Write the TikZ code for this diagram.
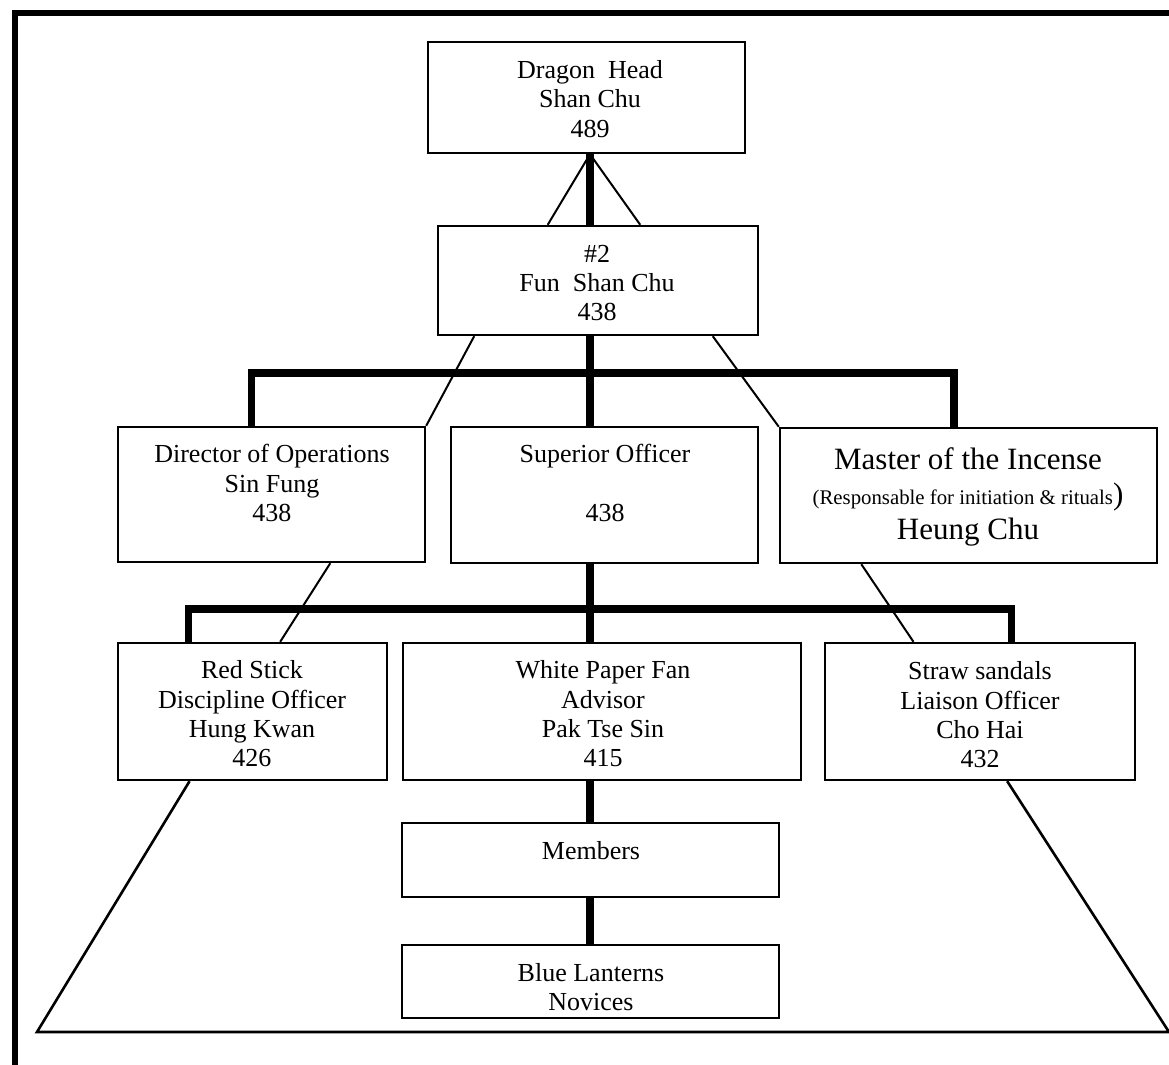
\documentclass[tikz,border=0pt]{standalone}
\usepackage{fontspec}
\setmainfont{Liberation Serif}
\usetikzlibrary{fit,calc}
\begin{document}
\begin{tikzpicture}[x=0.5pt,y=-0.5pt,
  box/.style={draw, rectangle, line width=1.2pt, inner sep=0pt},
  txt/.style={align=center, inner sep=0pt, font=\fontsize{13}{14.7}\selectfont},
  bigtxt/.style={align=center, inner sep=0pt, font=\fontsize{15.5}{17.5}\selectfont},
  trunkline/.style={line width=3.6pt},
  slant/.style={line width=1pt},
  baseline/.style={line width=1.3pt},
  frameline/.style={line width=3pt}]
\useasboundingbox (0,0) rectangle (1169,1065);
\fill[white] (0,0) rectangle (1169,1065);

% outer frame (left and top edges)
\draw[frameline] (15,1075) -- (15,13.5) -- (1180,13.5);

% boxes
\node[box, fit={(428,42) (745,153)}] (head) {};
\node[box, fit={(438,226) (758,335)}] (second) {};
\node[box, fit={(118,427) (425,562)}] (dir) {};
\node[box, fit={(451,427) (758,563)}] (sup) {};
\node[box, fit={(780,428) (1157,563)}] (mas) {};
\node[box, fit={(118,643) (387,780)}] (red) {};
\node[box, fit={(403,643) (801,780)}] (fan) {};
\node[box, fit={(825,643) (1135,780)}] (straw) {};
\node[box, fit={(402,823) (779,897)}] (mem) {};
\node[box, fit={(402,945) (779,1018)}] (blue) {};

% texts
\node[txt] (headT) at (590,99) {Dragon\ \ Head\\Shan Chu\\489};
\node[txt] (secondT) at (597,283) {\#2\\Fun\ \ Shan Chu\\438};
\node[txt] (dirT) at (272,483) {Director of Operations\\Sin Fung\\438};
\node[txt] (supT) at (605,483) {Superior Officer\\[15pt]438};
\node[bigtxt] (masT) at (968,497) {Master of the Incense\\{\fontsize{10.4}{12}\selectfont (Responsable for initiation \& rituals})\\Heung Chu};
\node[txt] (redT) at (252,714) {Red Stick\\Discipline Officer\\Hung Kwan\\426};
\node[txt] (fanT) at (603,714) {White Paper Fan\\Advisor\\Pak Tse Sin\\415};
\node[txt] (strawT) at (980,715) {Straw sandals\\Liaison Officer\\Cho Hai\\432};
\node[txt] (memT) at (591,851) {Members};
\node[txt] (blueT) at (591,987) {Blue Lanterns\\Novices};

% reference points for the connectors
\coordinate (trunk) at (590,0);
\coordinate (busA) at (0,373);
\coordinate (busB) at (0,609);
\coordinate (baseL) at (37,1032);
\coordinate (baseR) at (1169,1032);

% Dragon Head to #2
\draw[trunkline] (head.south -| trunk) -- (second.north -| trunk);
\draw[slant] (head.south -| trunk) -- ($(second.north west)!0.344!(second.north east)$);
\draw[slant] (head.south -| trunk) -- ($(second.north west)!0.631!(second.north east)$);

% #2 to the three officers
\coordinate (dropDir) at ($(dir.north west)!0.436!(dir.north east)$);
\coordinate (dropMas) at ($(mas.north west)!0.462!(mas.north east)$);
\draw[trunkline] (dropDir) -- (dropDir |- busA) -- (dropMas |- busA) -- (dropMas);
\draw[trunkline] (second.south -| trunk) -- (sup.north -| trunk);
\draw[slant] ($(second.south west)!0.116!(second.south east)$) -- (dir.north east);
\draw[slant] ($(second.south west)!0.856!(second.south east)$) -- (mas.north west);

% officers to the second rank
\coordinate (dropRed) at ($(red.north west)!0.264!(red.north east)$);
\coordinate (dropStraw) at ($(straw.north west)!0.6!(straw.north east)$);
\draw[trunkline] (dropRed) -- (dropRed |- busB) -- (dropStraw |- busB) -- (dropStraw);
\draw[trunkline] (sup.south -| trunk) -- (fan.north -| trunk);
\draw[slant] ($(dir.south west)!0.69!(dir.south east)$) -- ($(red.north west)!0.602!(red.north east)$);
\draw[slant] ($(mas.south west)!0.2175!(mas.south east)$) -- ($(straw.north west)!0.287!(straw.north east)$);

% members and novices
\draw[trunkline] (fan.south -| trunk) -- (mem.north -| trunk);
\draw[trunkline] (mem.south -| trunk) -- (blue.north -| trunk);

% pyramid base
\draw[baseline] ($(red.south west)!0.268!(red.south east)$) -- (baseL) -- (baseR)
  -- ($(straw.south west)!0.587!(straw.south east)$);
\end{tikzpicture}
\end{document}
